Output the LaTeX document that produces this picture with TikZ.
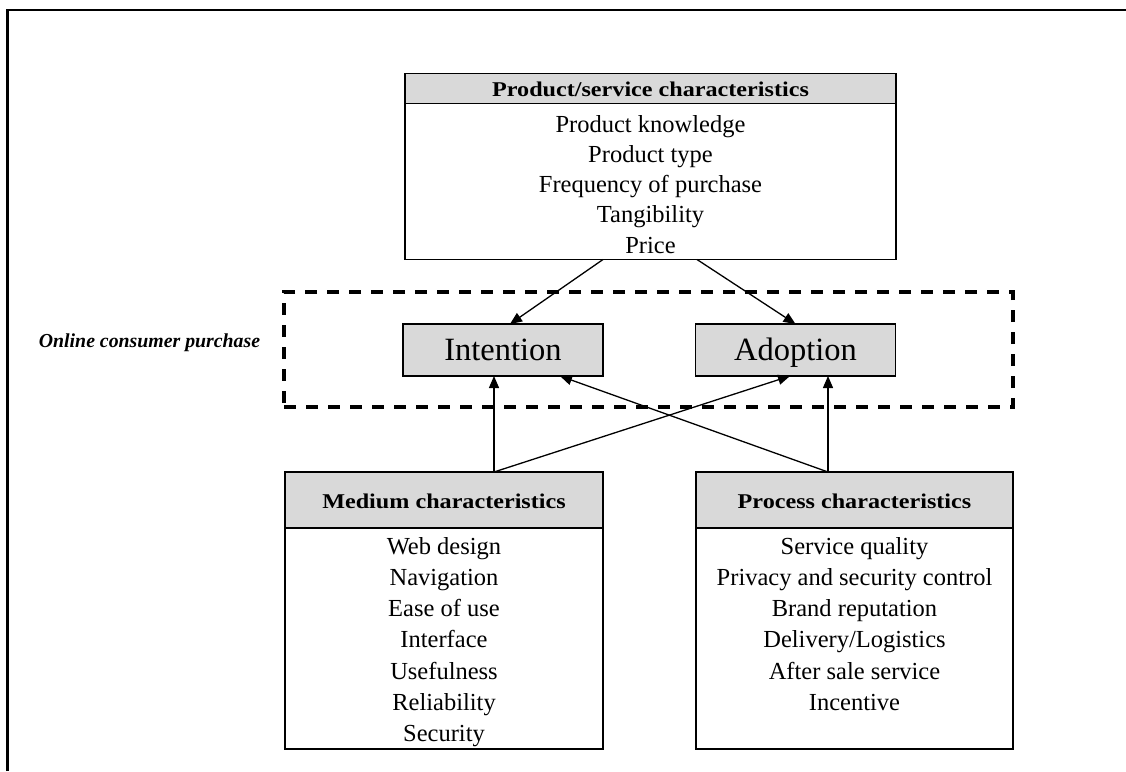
\documentclass[tikz,border=0pt]{standalone}
\usepackage{fontspec}
\setmainfont{Liberation Serif}
\usetikzlibrary{arrows.meta,calc}
\definecolor{hdr}{HTML}{D9D9D9}
\begin{document}
\begin{tikzpicture}[x=1pt,y=-1pt,
  box/.style={draw,line width=1.8pt,inner sep=0pt,outer sep=0pt},
  hdrbox/.style={box,fill=hdr,align=center,text height=16pt,text depth=0pt,
    font=\fontsize{21}{25}\selectfont\bfseries\addfontfeatures{FakeStretch=1.15}},
  item/.style={anchor=base,inner sep=0pt,font=\fontsize{24.5}{28}\selectfont},
  bigbox/.style={box,fill=hdr,minimum width=200pt,minimum height=52pt,
    text height=24pt,text depth=4pt,font=\fontsize{32.5}{38}\selectfont},
  conn/.style={line width=1.3pt,-{Triangle[length=12pt,width=10pt]}}]
\useasboundingbox (0,0) rectangle (1126,771);
% outer frame (top and left)
\draw[line width=2.5pt] (7.5,771) -- (7.5,10) -- (1126,10);

% product box
\node[box,minimum width=491pt,minimum height=156pt] (prodB) at (650.5,181.5) {};
\node[hdrbox,minimum width=491pt,minimum height=30pt] (prodH) at (650.5,88.5)
  {Product/service characteristics};
\foreach \t [count=\i] in {Product knowledge,Product type,Frequency of purchase,Tangibility,Price}
  \node[item] (p\i) at (650.5,{132+30.25*(\i-1)}) {\t};

% dashed box
\node[draw,line width=3.5pt,dash pattern=on 12pt off 10pt,minimum width=729pt,minimum height=115pt,inner sep=0pt] (dash) at (648.5,349.5) {};
\node[anchor=base,inner sep=0pt,font=\fontsize{19.8}{24}\selectfont\bfseries\itshape] (ocp) at (149.5,347) {Online consumer purchase};

\node[bigbox] (int) at (503,350) {Intention};
\node[bigbox] (ad) at (795.5,350) {Adoption};

% medium box
\node[box,minimum width=318pt,minimum height=221pt] (medB) at (444,638.5) {};
\node[hdrbox,minimum width=318pt,minimum height=56pt] (medH) at (444,500)
  {Medium characteristics};
\foreach \t [count=\i] in {Web design,Navigation,Ease of use,Interface,Usefulness,Reliability,Security}
  \node[item] (m\i) at (444,{554+31.3*(\i-1)}) {\t};

% process box
\node[box,minimum width=317pt,minimum height=221pt] (procB) at (854.5,638.5) {};
\node[hdrbox,minimum width=317pt,minimum height=56pt] (procH) at (854.5,500)
  {Process characteristics};
\foreach \t [count=\i] in {Service quality,Privacy and security control,Brand reputation,Delivery/Logistics,After sale service,Incentive}
  \node[item] (r\i) at (854.5,{554+31.3*(\i-1)}) {\t};

% connectors
\draw[conn] ([xshift=-47.5pt]prodB.south) -- ([xshift=7pt]int.north);
\draw[conn] ([xshift=46.5pt]prodB.south) -- (ad.north);
\draw[conn] ([xshift=50pt]medH.north) -- ([xshift=-9pt]int.south);
\draw[conn] ([xshift=50pt]medH.north) -- ([xshift=-5.5pt]ad.south);
\draw[conn] ([xshift=-26.5pt]procH.north) -- ([xshift=32.5pt]ad.south);
\draw[conn] ([xshift=-26.5pt]procH.north) -- ([xshift=57pt]int.south);
\end{tikzpicture}
\end{document}
